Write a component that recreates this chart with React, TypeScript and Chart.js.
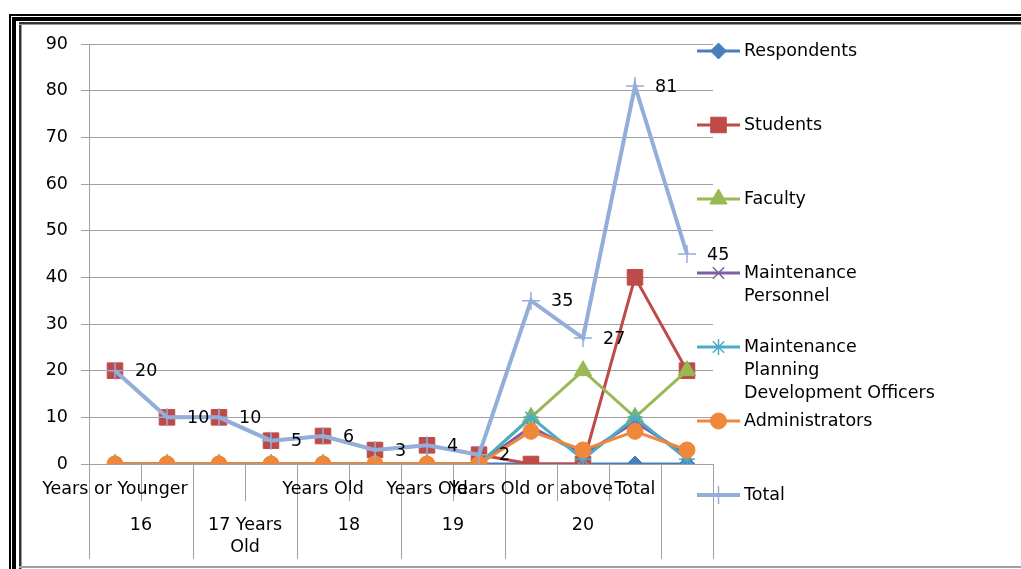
import React, { useEffect, useRef } from 'react';
import { Chart, registerables, PointElement } from 'chart.js';

Chart.register(...registerables);

// ---- data ----
const categories = ['Years or Younger', '', '', '', 'Years Old', '', 'Years Old', '', 'Years Old or above', '', 'Total', ''];
const groupLabels = ['16', '17 Years\nOld', '18', '19', '20', ''];
const groupSpans = [2, 2, 2, 2, 3, 1];

const seriesNames = [
  'Respondents',
  'Students',
  'Faculty',
  'Maintenance\nPersonnel',
  'Maintenance\nPlanning\nDevelopment Officers',
  'Administrators',
  'Total',
];

const respondents = [0, 0, 0, 0, 0, 0, 0, 0, 0, 0, 0, 0];
const students = [20, 10, 10, 5, 6, 3, 4, 2, 0, 0, 40, 20];
const faculty = [0, 0, 0, 0, 0, 0, 0, 0, 10, 20, 10, 20];
const maintenancePersonnel = [0, 0, 0, 0, 0, 0, 0, 0, 8, 2, 9, 2];
const planningOfficers = [0, 0, 0, 0, 0, 0, 0, 0, 10, 1, 10, 1];
const administrators = [0, 0, 0, 0, 0, 0, 0, 0, 7, 3, 7, 3];
const total = [20, 10, 10, 5, 6, 3, 4, 2, 35, 27, 81, 45];

const seriesValues = [respondents, students, faculty, maintenancePersonnel, planningOfficers, administrators, total];

const yMin = 0;
const yMax = 90;
const yStep = 10;

// ---- styles ----
const FONT = '"DejaVu Sans", sans-serif';
const FS = 17.5;
const GRID = '#a0a0a0';

const seriesStyles = [
  { color: '#4A7EBB', point: 'rectRot', r: 8, bw: 1, lw: 3 },
  { color: '#BE4B48', point: 'rect', r: 11, bw: 1, lw: 3 },
  { color: '#98B954', point: 'triangle', r: 10, bw: 1, lw: 3 },
  { color: '#7D60A0', point: 'crossRot', r: 8, bw: 1.5, lw: 3 },
  { color: '#4BACC6', point: 'star', r: 8, bw: 1.5, lw: 3 },
  { color: '#F0883C', point: 'circle', r: 8, bw: 1, lw: 3 },
  { color: '#93AFD9', point: 'cross', r: 9, bw: 1.5, lw: 4 },
];

const decorPlugin = {
  id: 'decor',
  beforeDraw(chart: any) {
    const { ctx, width, height } = chart;
    ctx.save();
    ctx.fillStyle = '#ffffff';
    ctx.fillRect(0, 0, width, height);
    ctx.fillStyle = '#000000';
    ctx.fillRect(9, 14, width - 9, 2);
    ctx.fillRect(9, 14, 2, height - 14);
    ctx.fillRect(12, 17, width - 12, 4);
    ctx.fillRect(12, 17, 4, height - 17);
    ctx.fillStyle = '#333333';
    ctx.fillRect(19, 22, width - 19, 2);
    ctx.fillRect(19, 22, 2, height - 22);
    ctx.fillStyle = '#999999';
    ctx.fillRect(19, 24, width - 19, 1);
    ctx.fillRect(21, 24, 1, height - 24);
    ctx.fillStyle = '#a0a0a0';
    ctx.fillRect(19, 566, width - 19, 2);
    ctx.restore();
  },
  beforeDatasetsDraw(chart: any) {
    const { ctx, chartArea } = chart;
    const xs = chart.scales.x;
    const n = categories.length;
    const step = xs.getPixelForValue(1) - xs.getPixelForValue(0);
    const left = xs.getPixelForValue(0) - step / 2;
    const bottom = chartArea.bottom;
    ctx.save();
    ctx.strokeStyle = GRID;
    ctx.lineWidth = 1;
    const groupBounds = new Set<number>();
    let acc = 0;
    groupBounds.add(0);
    groupSpans.forEach((s) => {
      acc += s;
      groupBounds.add(acc);
    });
    for (let i = 1; i <= n; i++) {
      const x = Math.round(left + i * step) + 0.5;
      const long = groupBounds.has(i);
      ctx.beginPath();
      ctx.moveTo(x, bottom);
      ctx.lineTo(x, long ? 559 : 501);
      ctx.stroke();
    }
    const lx = Math.round(left) + 0.5;
    ctx.beginPath();
    ctx.moveTo(lx, bottom);
    ctx.lineTo(lx, 559);
    ctx.stroke();

    ctx.fillStyle = '#000000';
    ctx.font = `${FS}px ${FONT}`;
    ctx.textAlign = 'center';
    ctx.textBaseline = 'middle';
    categories.forEach((c, i) => {
      if (!c) return;
      ctx.fillText(c, xs.getPixelForValue(i), 489);
    });
    let start = 0;
    groupLabels.forEach((g, gi) => {
      const span = groupSpans[gi];
      const cx = left + (start + span / 2) * step;
      g.split('\n').forEach((line, li) => {
        ctx.fillText(line, cx, 525 + li * 22);
      });
      start += span;
    });
    ctx.restore();
  },
  afterDatasetsDraw(chart: any) {
    const { ctx } = chart;
    const ti = seriesValues.length - 1;
    const meta = chart.getDatasetMeta(ti);
    ctx.save();
    ctx.fillStyle = '#000000';
    ctx.font = `${FS}px ${FONT}`;
    ctx.textAlign = 'left';
    ctx.textBaseline = 'middle';
    meta.data.forEach((p: any, i: number) => {
      ctx.fillText(String(total[i]), p.x + 20, p.y + 1);
    });
    ctx.restore();
  },
  afterDraw(chart: any) {
    const { ctx } = chart;
    ctx.save();
    seriesNames.forEach((name, i) => {
      const st = seriesStyles[i];
      const y = 51 + i * 74;
      ctx.strokeStyle = st.color;
      ctx.lineWidth = st.lw;
      ctx.beginPath();
      ctx.moveTo(697, y);
      ctx.lineTo(740, y);
      ctx.stroke();
      const pe: any = new PointElement({
        x: 718.5,
        y,
        options: {
          pointStyle: st.point,
          radius: st.r,
          rotation: 0,
          borderWidth: st.bw,
          backgroundColor: st.color,
          borderColor: st.color,
        },
      } as any);
      pe.draw(ctx);
      ctx.fillStyle = '#000000';
      ctx.font = `${FS}px ${FONT}`;
      ctx.textAlign = 'left';
      ctx.textBaseline = 'middle';
      name.split('\n').forEach((line, li) => {
        ctx.fillText(line, 744, y + li * 23);
      });
    });
    ctx.restore();
  },
};

export default function App() {
  const ref = useRef<HTMLCanvasElement | null>(null);
  useEffect(() => {
    if (!ref.current) return;
    const chart = new Chart(ref.current, {
      type: 'line',
      data: {
        labels: categories.map((c, i) => c || ' '.repeat(i + 1)),
        datasets: seriesValues.map((vals, i) => {
          const st = seriesStyles[i];
          return {
            label: seriesNames[i].replace(/\n/g, ' '),
            data: vals,
            borderColor: st.color,
            backgroundColor: st.color,
            borderWidth: st.lw,
            pointStyle: st.point as any,
            pointRadius: st.r,
            pointBackgroundColor: st.color,
            pointBorderColor: st.color,
            pointBorderWidth: st.bw,
            tension: 0,
            fill: false,
            order: seriesValues.length - 1 - i,
          };
        }),
      },
      options: {
        responsive: false,
        animation: false,
        layout: { padding: { left: 0, top: 44, right: 308, bottom: 105 } },
        plugins: {
          legend: { display: false },
          tooltip: { enabled: false },
        },
        scales: {
          x: {
            type: 'category',
            display: false,
            offset: true,
          },
          y: {
            min: yMin,
            max: yMax,
            ticks: {
              stepSize: yStep,
              color: '#000000',
              font: { family: FONT, size: FS },
              padding: 13,
            },
            grid: { color: GRID, tickLength: 8, lineWidth: 1 },
            border: { color: GRID },
            afterFit: (s: any) => {
              s.width = 89;
            },
          },
        },
      },
      plugins: [decorPlugin],
    });
    return () => chart.destroy();
  }, []);
  return (
    <div style={{ position: 'fixed', left: 0, top: 0, width: 1021, height: 569, overflow: 'hidden', background: '#fff' }}>
      <canvas ref={ref} width={1021} height={569} style={{ display: 'block' }} />
    </div>
  );
}
